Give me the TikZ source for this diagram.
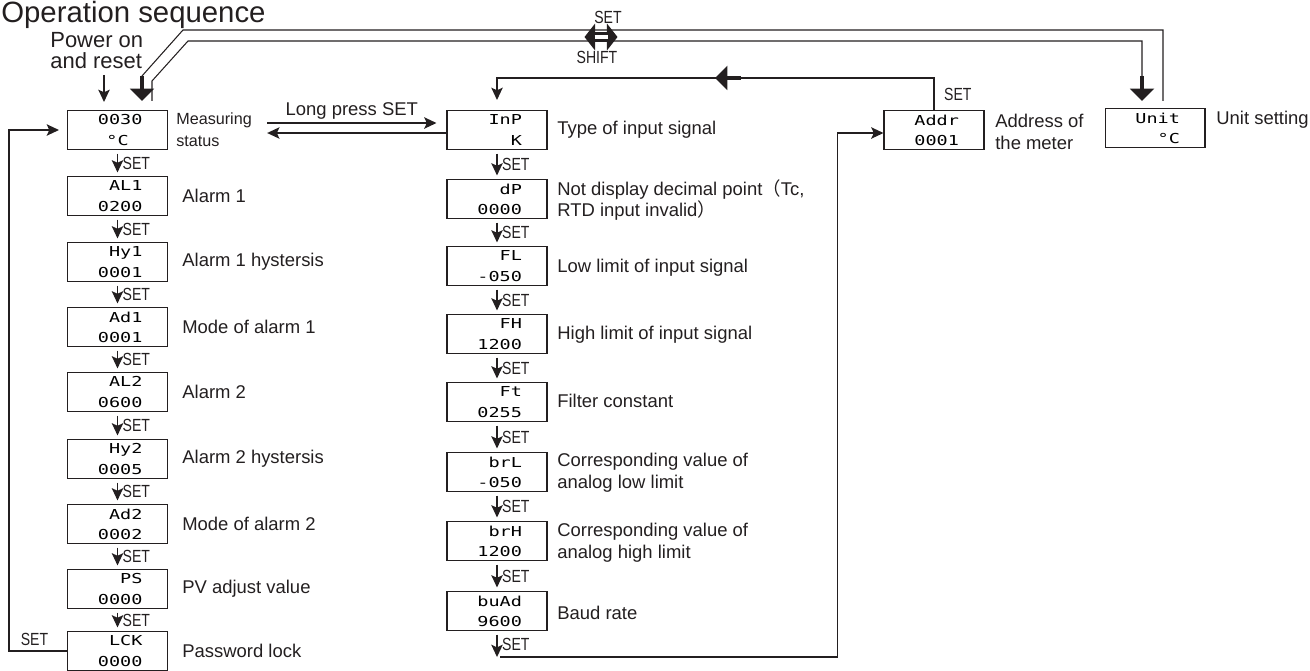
\documentclass[tikz,border=0pt]{standalone}
\usepackage{fontspec}
\setmainfont{Liberation Sans}
\newfontfamily\condfont[FakeStretch=0.8]{Liberation Sans}
\newfontfamily\segfont[FakeStretch=1.35]{DejaVu Sans Mono}
\newfontfamily\cjkfont{Noto Sans CJK SC}
\usetikzlibrary{arrows.meta, calc}
\definecolor{InkBlack}{RGB}{35,31,32}

\begin{document}
\begin{tikzpicture}[x=0.02cm, y=-0.02cm,
    disp/.style={draw=InkBlack, line width=0.6pt, minimum width=2cm, minimum height=0.78cm,
                 inner sep=0pt, text width=1.0cm, align=right,
                 font=\segfont\fontsize{7.8}{11.5}\selectfont},
    lbl/.style={anchor=west, inner sep=0pt, align=left, text=InkBlack,
                font=\fontsize{10.5}{12.5}\selectfont},
    setl/.style={right, inner sep=2.5pt, text=InkBlack, font=\condfont\fontsize{10}{11}\selectfont},
    arr/.style={-{Stealth[length=7pt, width=6.5pt, inset=1.5pt]}, line width=0.9pt, draw=InkBlack},
    stp/.style={arr, shorten <=2pt, shorten >=2pt},
    wire/.style={line width=0.6pt, draw=InkBlack},
    bigarr/.style={-{Triangle[length=7pt, width=13.5pt]}, line width=2.8pt, draw=InkBlack}
  ]
  \useasboundingbox (0,0) rectangle (1310,670);

  \node[anchor=base west, inner sep=0pt, text=InkBlack, font=\fontsize{16.7}{20}\selectfont]
        (title) at (1,22) {Operation sequence};
  \node[anchor=west, inner sep=0pt, align=left, text=InkBlack, font=\fontsize{12.5}{12}\selectfont]
        (power) at (50,51) {Power on\\and reset};

  % measuring column
  \node[disp] (meas) at (117.5,130) {0030\\\makebox[1.0cm][c]{°C}};
  \node[disp] (al1)  at (117.5,196) {AL1\\0200};
  \node[disp] (hy1)  at (117.5,262) {Hy1\\0001};
  \node[disp] (ad1)  at (117.5,327) {Ad1\\0001};
  \node[disp] (al2)  at (117.5,392) {AL2\\0600};
  \node[disp] (hy2)  at (117.5,459) {Hy2\\0005};
  \node[disp] (ad2)  at (117.5,524) {Ad2\\0002};
  \node[disp] (ps)   at (117.5,589) {PS\\0000};
  \node[disp] (lck)  at (117.5,651) {LCK\\0000};

  \node[lbl, font=\fontsize{9.2}{12.5}\selectfont] (measl) at (176,130) {Measuring\\status};
  \node[lbl] (al1l) at (182,196) {Alarm 1};
  \node[lbl] (hy1l) at (182,262) {Alarm 1 hystersis};
  \node[lbl] (ad1l) at (182,327) {Mode of alarm 1};
  \node[lbl] (al2l) at (182,392) {Alarm 2};
  \node[lbl] (hy2l) at (182,459) {Alarm 2 hystersis};
  \node[lbl] (ad2l) at (182,524) {Mode of alarm 2};
  \node[lbl] (psl)  at (182,589) {PV adjust value};
  \node[lbl] (lckl) at (182,651) {Password lock};

  % input column
  \node[disp] (inp)  at (497,130) {InP\\K};
  \node[disp] (dp)   at (497,199) {dP\\0000};
  \node[disp] (fl)   at (497,266) {FL\\-050};
  \node[disp] (fh)   at (497,334) {FH\\1200};
  \node[disp] (ft)   at (497,402) {Ft\\0255};
  \node[disp] (brl)  at (497,472) {brL\\-050};
  \node[disp] (brh)  at (497,541) {brH\\1200};
  \node[disp] (baud) at (497,611) {buAd\\9600};

  \node[lbl] (inpl)  at (557,130) {Type of input signal};
  \node[lbl] (dpl)   at (557,200) {Not display decimal point{\cjkfont（}Tc,\\RTD input invalid{\cjkfont）}};
  \node[lbl] (fll)   at (557,268) {Low limit of input signal};
  \node[lbl] (fhl)   at (557,335) {High limit of input signal};
  \node[lbl] (ftl)   at (557,401) {Filter constant};
  \node[lbl] (brll)  at (557,473) {Corresponding value of\\analog low limit};
  \node[lbl] (brhl)  at (557,543) {Corresponding value of\\analog high limit};
  \node[lbl] (baudl) at (557,613) {Baud rate};

  % address and unit
  \node[disp] (addr) at (934,130) {Addr\\0001};
  \node[lbl] (addrl) at (995,132) {Address of\\the meter};
  \node[disp] (unit) at (1155,128) {Unit\\°C};
  \node[lbl] (unitl) at (1216,120) {Unit setting};

  % SET steps
  \draw[stp] (meas) -- (al1) node[midway, setl] {SET};
  \draw[stp] (al1)  -- (hy1) node[midway, setl] {SET};
  \draw[stp] (hy1)  -- (ad1) node[midway, setl] {SET};
  \draw[stp] (ad1)  -- (al2) node[midway, setl] {SET};
  \draw[stp] (al2)  -- (hy2) node[midway, setl] {SET};
  \draw[stp] (hy2)  -- (ad2) node[midway, setl] {SET};
  \draw[stp] (ad2)  -- (ps)  node[midway, setl] {SET};
  \draw[stp] (ps)   -- (lck) node[midway, setl] {SET};

  \draw[stp] (inp) -- (dp)   node[midway, setl] {SET};
  \draw[stp] (dp)  -- (fl)   node[midway, setl] {SET};
  \draw[stp] (fl)  -- (fh)   node[midway, setl] {SET};
  \draw[stp] (fh)  -- (ft)   node[midway, setl] {SET};
  \draw[stp] (ft)  -- (brl)  node[midway, setl] {SET};
  \draw[stp] (brl) -- (brh)  node[midway, setl] {SET};
  \draw[stp] (brh) -- (baud) node[midway, setl] {SET};
  \draw[arr, shorten <=2pt] (baud.south) -- ++(0,26) coordinate (baudend) node[midway, setl] {SET};

  % loops
  \draw[arr] (lck.west) -- ++(-58,0) node[setl, above, pos=0.56] {SET} |- ([xshift=-0.16cm]meas.west);
  \draw[arr] ([xshift=0.06cm]baudend) -| ([xshift=-0.92cm,yshift=-0.06cm]addr.west)
             -- ([yshift=-0.06cm]addr.west);
  \draw[arr] (addr.north) -- ++(0,-32) coordinate (addrup)
             node[midway, setl, xshift=0.1cm] {SET} -| ([yshift=0.2cm]inp.north);
  \path (addrup) -- (addrup -| inp.north) coordinate[pos=0.442] (bl1) coordinate[pos=0.501] (bl2);
  \draw[bigarr] (bl1) -- (bl2);

  % long press
  \draw[arr] ([xshift=0.3cm,yshift=0.14cm]measl.east) -- ([xshift=-0.2cm,yshift=0.14cm]inp.west)
             node[midway, above, inner sep=1.5pt, text=InkBlack, font=\fontsize{10.5}{12}\selectfont] {Long press SET};
  \draw[arr] ([yshift=-0.06cm]inp.west) -- ([xshift=0.3cm,yshift=-0.06cm]measl.east);

  % power on
  \coordinate (pwrin) at ([xshift=-0.27cm,yshift=0.16cm]meas.north);
  \draw[arr, shorten <=3pt] (pwrin |- power.south) -- (pwrin);

  % SET + SHIFT double track
  \draw[wire] ($(unit.north)+(8,-7)$) -- ($(unit.north)+(8,-78)$)
              -- ($(meas.north)+(65.5,-80)$) -- ($(meas.north)+(24.5,-34)$);
  \draw[bigarr] ($(meas.north)+(24.5,-34)$) -- ($(meas.north)+(24.5,-9)$);
  \draw[wire] ($(meas.north)+(34.5,-9)$) -- ($(meas.north)+(34.5,-29)$)
              -- ($(meas.north)+(70.5,-69)$) -- ($(unit.north)+(-13,-67)$) -- ($(unit.north)+(-13,-32)$);
  \draw[bigarr] ($(unit.north)+(-13,-32)$) -- ($(unit.north)+(-13,-7)$);

  \coordinate (keys) at (601,37);
  \draw[line width=6pt, draw=InkBlack, {Triangle[length=6pt,width=15pt]}-{Triangle[length=6pt,width=15pt]}]
        ([xshift=-0.33cm]keys) -- ([xshift=0.33cm]keys);
  \draw[white, line width=2pt] ([xshift=-0.13cm]keys) -- ([xshift=0.13cm]keys);
  \node[inner sep=0pt, text=InkBlack, font=\condfont\fontsize{10}{11}\selectfont] (setk) at (608,17) {SET};
  \node[inner sep=0pt, text=InkBlack, font=\condfont\fontsize{10}{11}\selectfont] (shiftk) at (597,57) {SHIFT};
\end{tikzpicture}
\end{document}
